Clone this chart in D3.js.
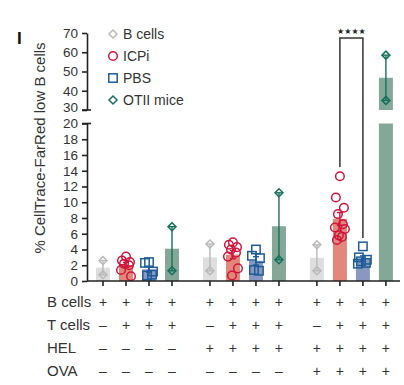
<!DOCTYPE html>
<html>
<head>
<meta charset="utf-8">
<script src="https://cdn.jsdelivr.net/npm/d3@7"></script>
<style>
  body { margin: 0; background: #fff; }
  svg { font-family: "Liberation Sans", Arial, sans-serif; }
</style>
</head>
<body>
<div id="chart"></div>
<script>
// condition names and the values read per group (3 groups: none, HEL, HEL+OVA)
const conditions = ["B cells", "ICPi", "PBS", "OTII mice"];
const bCellsVals = [[2.6, 0.8], [4.7, 1.3], [4.6, 1.3]];
const icpiVals = [
  [3.1, 2.6, 2.4, 2.2, 2.0, 1.4, 0.6],
  [4.9, 4.6, 4.3, 4.0, 3.6, 3.1, 1.6, 0.7],
  [13.3, 10.6, 9.3, 8.5, 7.2, 6.8, 6.6, 5.8, 5.6, 5.2]
];
const pbsVals = [
  [2.4, 2.3, 1.2, 0.7, 0.8],
  [4.0, 3.2, 2.9, 1.4, 1.3],
  [4.4, 3.0, 2.7, 2.5, 2.3, 2.2]
];
const otiiVals = [[6.9, 1.3], [11.2, 2.7], [58.5, 35.0]];

const lowTicks = [0, 2, 4, 6, 8, 10, 12, 14, 16, 18, 20];
const highTicks = [30, 40, 50, 60, 70];

// table below the x axis
const rowLabels = ["B cells", "T cells", "HEL", "OVA"];
const rowSigns = [
  ["+", "+", "+", "+", "+", "+", "+", "+", "+", "+", "+", "+"],
  ["–", "+", "+", "+", "–", "+", "+", "+", "–", "+", "+", "+"],
  ["–", "–", "–", "–", "+", "+", "+", "+", "+", "+", "+", "+"],
  ["–", "–", "–", "–", "–", "–", "–", "–", "+", "+", "+", "+"]
];

const styles = {
  "B cells":   { stroke: "#b9b9b9", bar: "#dedede", shape: "diamond" },
  "ICPi":      { stroke: "#d0143c", bar: "#e2877a", shape: "circle" },
  "PBS":       { stroke: "#1e5c98", bar: "#8898c0", shape: "square" },
  "OTII mice": { stroke: "#17705a", bar: "#84a797", shape: "diamond" }
};

const allVals = [bCellsVals, icpiVals, pbsVals, otiiVals];

const width = 404, height = 385;
const svg = d3.select("#chart").append("svg")
  .attr("width", width).attr("height", height);

// x: each bar sits on a slot, groups separated by a wider gap
const groupStep = 4.65;
const x = d3.scaleLinear().domain([0, 1]).range([103, 126]);
const slot = (g, c) => g * groupStep + c;

// broken y axis
const yLow = d3.scaleLinear().domain([0, 20]).range([281, 123.5]);
const yHigh = d3.scaleLinear().domain([30, 70]).range([110, 33]);
const y = v => v <= 20 ? yLow(v) : yHigh(Math.max(v, 30));

const axisX = 87;

// build bar records
const bars = [];
allVals.forEach((vals, c) => {
  vals.forEach((pts, g) => {
    const mean = d3.mean(pts);
    const sem = d3.deviation(pts) / Math.sqrt(pts.length);
    bars.push({ cond: conditions[c], g, c, pts, mean, sem });
  });
});

const barW = 14;

// bars: lower segment and (if needed) upper segment
bars.forEach(b => {
  const cx = x(slot(b.g, b.c));
  const col = styles[b.cond].bar;
  const lowTop = yLow(Math.min(b.mean, 20));
  svg.append("rect")
    .attr("x", cx - barW / 2).attr("y", lowTop)
    .attr("width", barW).attr("height", yLow(0) - lowTop)
    .attr("fill", col);
  if (b.mean > 30) {
    svg.append("rect")
      .attr("x", cx - barW / 2).attr("y", yHigh(b.mean))
      .attr("width", barW).attr("height", yHigh(30) - yHigh(b.mean))
      .attr("fill", col);
  }
});

// error bars (mean ± SEM)
bars.forEach(b => {
  const cx = x(slot(b.g, b.c));
  const col = styles[b.cond].stroke;
  const lo = b.mean - b.sem, hi = b.mean + b.sem;
  const g = svg.append("g").attr("stroke", col).attr("stroke-width", 1.4);
  if (lo > 30 || hi <= 20) {
    g.append("line").attr("x1", cx).attr("x2", cx).attr("y1", y(lo)).attr("y2", y(hi));
  } else {
    g.append("line").attr("x1", cx).attr("x2", cx).attr("y1", y(Math.max(lo, 30))).attr("y2", y(hi));
  }
  [lo, hi].forEach(v => {
    g.append("line").attr("x1", cx - 3).attr("x2", cx + 3).attr("y1", y(v)).attr("y2", y(v));
  });
});

// markers
function drawMarker(sel, shape, cx, cy, col) {
  if (shape === "circle") {
    sel.append("circle").attr("cx", cx).attr("cy", cy).attr("r", 4.3)
      .attr("fill", "none").attr("stroke", col).attr("stroke-width", 1.5);
  } else if (shape === "square") {
    sel.append("rect").attr("x", cx - 4.2).attr("y", cy - 4.2)
      .attr("width", 8.4).attr("height", 8.4)
      .attr("fill", "none").attr("stroke", col).attr("stroke-width", 1.5);
  } else {
    const s = 4;
    sel.append("path")
      .attr("d", `M${cx},${cy - s}L${cx + s},${cy}L${cx},${cy + s}L${cx - s},${cy}Z`)
      .attr("fill", "none").attr("stroke", col).attr("stroke-width", 1.5);
  }
}

const jitter = [0, -4, 4, -2, 3, -5, 5, -1, 2, -3];
const ptsG = svg.append("g");
bars.forEach(b => {
  const cx = x(slot(b.g, b.c));
  const st = styles[b.cond];
  b.pts.forEach((v, i) => {
    const dx = st.shape === "diamond" ? 0 : jitter[i % jitter.length];
    drawMarker(ptsG, st.shape, cx + dx, y(v), st.stroke);
  });
});

// y axes
const axLow = svg.append("g")
  .attr("transform", `translate(${axisX},0)`)
  .call(d3.axisLeft(yLow).tickValues(lowTicks).tickSize(5).tickSizeOuter(0).tickPadding(4));
const axHigh = svg.append("g")
  .attr("transform", `translate(${axisX},0)`)
  .call(d3.axisLeft(yHigh).tickValues(highTicks).tickSize(5).tickSizeOuter(0).tickPadding(4));
[axLow, axHigh].forEach(a => {
  a.selectAll("path, line").attr("stroke", "#222").attr("stroke-width", 1.6);
  a.selectAll("text").attr("font-size", 13.5).attr("fill", "#333")
    .attr("font-family", "'Liberation Sans', Arial, sans-serif");
});
// nudge the label at the break up a little
axHigh.selectAll(".tick").filter(d => d === 30).select("text").attr("dy", "0.12em");
// break caps
[yHigh(30), yLow(20)].forEach(yy => {
  svg.append("line").attr("x1", axisX - 5).attr("x2", axisX + 4)
    .attr("y1", yy).attr("y2", yy).attr("stroke", "#222").attr("stroke-width", 1.6);
});

// x axis
const xTicks = [];
for (let g = 0; g < 3; g++) for (let c = 0; c < 4; c++) xTicks.push(slot(g, c));
const xAx = svg.append("g")
  .attr("transform", `translate(0,${yLow(0)})`);
xAx.append("line").attr("x1", axisX).attr("x2", 400).attr("y1", 0).attr("y2", 0)
  .attr("stroke", "#222").attr("stroke-width", 1.6);
xAx.selectAll(".tk").data(xTicks).enter().append("line")
  .attr("x1", d => x(d)).attr("x2", d => x(d)).attr("y1", 0).attr("y2", 5)
  .attr("stroke", "#222").attr("stroke-width", 1.6);

// y label
svg.append("text")
  .attr("transform", "translate(45,148) rotate(-90)")
  .attr("text-anchor", "middle")
  .attr("font-size", 15).attr("fill", "#333")
  .attr("font-family", "'Liberation Sans Narrow', 'Liberation Sans', Arial, sans-serif")
  .text("% CellTrace-FarRed low B cells");

// panel label
svg.append("text").attr("x", 17).attr("y", 44)
  .attr("font-size", 17).attr("font-weight", "bold").attr("fill", "#111")
  .text("I");

// legend
const legY = [34, 56, 78, 100];
conditions.forEach((c, i) => {
  const st = styles[c];
  drawMarker(svg, st.shape, 113, legY[i], st.stroke);
  svg.append("text").attr("x", 123).attr("y", legY[i] + 5)
    .attr("font-size", 14).attr("fill", "#333").text(c);
});

// significance bracket between ICPi and PBS in HEL+OVA group
const bx1 = x(slot(2, 1)), bx2 = x(slot(2, 2));
svg.append("path")
  .attr("d", `M${bx1},167V38H${bx2}V238`)
  .attr("fill", "none").attr("stroke", "#333").attr("stroke-width", 1.5);
svg.append("text").attr("x", (bx1 + bx2) / 2).attr("y", 34)
  .attr("text-anchor", "middle").attr("font-size", 8).attr("fill", "#222")
  .attr("font-family", "'DejaVu Sans', sans-serif")
  .text("★★★★");

// condition table
const rowY = [302, 325, 348, 371];
rowLabels.forEach((lab, r) => {
  svg.append("text").attr("x", 47).attr("y", rowY[r] + 5)
    .attr("font-size", 15).attr("fill", "#333").text(lab);
  svg.selectAll(null).data(rowSigns[r]).enter().append("text")
    .attr("x", (d, i) => x(xTicks[i]))
    .attr("y", rowY[r] + 5)
    .attr("text-anchor", "middle")
    .attr("font-size", 14).attr("fill", "#333")
    .text(d => d);
});
</script>
</body>
</html>
